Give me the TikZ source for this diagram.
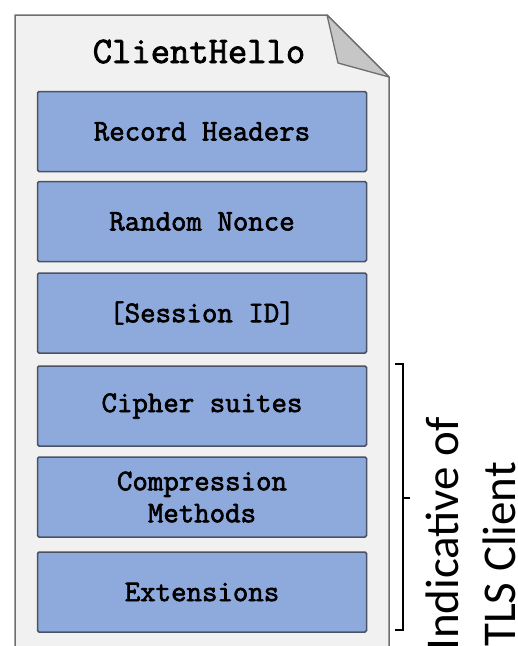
\documentclass[tikz,border=0pt]{standalone}
\usepackage{fontspec}
\newfontfamily\notefont{Carlito}
\newfontfamily\codefont{Latin Modern Mono}[FakeBold=2.2]
\definecolor{pagefill}{HTML}{F1F1F1}
\definecolor{pageedge}{HTML}{6E6E6E}
\definecolor{foldfill}{HTML}{C6C6C6}
\definecolor{boxfill}{HTML}{8EA9DB}
\definecolor{boxedge}{HTML}{4A5263}
\begin{document}
\begin{tikzpicture}[x=1pt,y=-1pt,
  field/.style={draw=boxedge, fill=boxfill, line width=1.5pt, rounded corners=1.5pt,
    minimum width=329pt, minimum height=80pt, inner sep=0pt, align=center,
    font=\codefont\fontsize{30}{32}\selectfont},
  title/.style={font=\codefont\fontsize{37.5}{40}\selectfont, inner sep=0pt},
  note/.style={font=\notefont\fontsize{47}{57}\selectfont, inner sep=0pt, rotate=90, anchor=base west},
  bracket/.style={draw=black, line width=1.6pt}]
  \useasboundingbox (0,0) rectangle (518,646);
  \clip (0,0) rectangle (518,646);

  % message page with folded corner
  \draw[pageedge, fill=pagefill, line width=1.5pt]
    (15,700) -- (15,15) -- (327,15) -- (389,77) -- (389,700);
  \draw[pageedge, fill=foldfill, line width=1.3pt, line join=round]
    (327,15) -- (338,63) -- (389,77) -- cycle;

  \node[title, anchor=base] (hello) at (199,63) {ClientHello};

  % message fields
  \node[field] (rec) at (202,131.5) {Record Headers};
  \node[field] (rnd) at (202,221.5) {Random Nonce};
  \node[field] (sid) at (202,313) {[Session ID]};
  \node[field] (cs)  at (202,406) {Cipher suites};
  \node[field] (cm)  at (202,497) {Compression\\Methods};
  \node[field] (ext) at (202,592) {Extensions};

  % bracket over the client-specific fields
  \coordinate (btl) at (395,364);
  \coordinate (btr) at (403,364);
  \coordinate (bbr) at (403,630);
  \coordinate (bbl) at (395,630);
  \coordinate (bmid) at (403,498);
  \coordinate (btip) at (410,498);
  \draw[bracket] (btl) -- (btr) -- (bbr) -- (bbl);
  \draw[bracket] (bmid) -- (btip);

  \node[note] (ind) at (458,651) {Indicative of};
  \node[note] (tls) at (515,647) {TLS Client};
\end{tikzpicture}
\end{document}
